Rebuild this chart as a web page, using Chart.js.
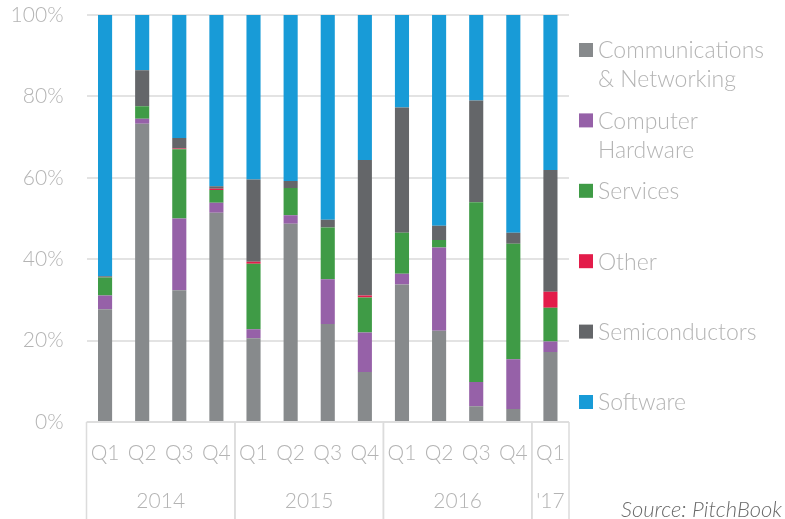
<!DOCTYPE html>
<html>
<head>
<meta charset="utf-8">
<script src="https://cdn.jsdelivr.net/npm/chart.js@4/dist/chart.umd.min.js"></script>
<style>
  html, body { margin: 0; padding: 0; background: #fff; overflow: hidden; }
  .chart-container { position: relative; width: 785px; height: 519px; }
</style>
</head>
<body>
<div class="chart-container">
  <canvas id="dealChart" width="785" height="519"></canvas>
</div>
<script>
// quarters on the axis, years under them
const quarters = ["Q1","Q2","Q3","Q4","Q1","Q2","Q3","Q4","Q1","Q2","Q3","Q4","Q1"];
const years = ["2014", "2015", "2016", "'17"];
const yearSpans = [4, 4, 4, 1];
const yTicks = [0, 20, 40, 60, 80, 100];

// share of deal count by sector, % (bottom to top)
const commsNetworking = [27.7, 73.3, 32.4, 51.4, 20.6, 48.7, 24.1, 12.3, 33.8, 22.4, 3.9, 3.2, 17.2];
const computerHardware = [3.4, 1.2, 17.6, 2.5, 2.2, 2.1, 11.0, 9.7, 2.6, 20.5, 5.9, 12.2, 2.6];
const services = [4.4, 3.1, 17.0, 3.1, 16.1, 6.7, 12.7, 8.6, 10.1, 1.8, 44.2, 28.4, 8.3];
const other = [0, 0, 0.2, 0.3, 0.5, 0, 0, 0.5, 0, 0, 0, 0, 3.9];
const semiconductors = [0.3, 8.8, 2.6, 0.6, 20.2, 1.7, 1.9, 33.3, 30.8, 3.5, 25.0, 2.7, 29.9];
const software = [64.2, 13.6, 30.2, 42.1, 40.4, 40.8, 50.3, 35.6, 22.7, 51.8, 21.0, 53.5, 38.1];

const FONT = "Lato, 'Open Sans', sans-serif";
const TEXT_GREY = "#b4b4b4";

// legend on the right, labels may wrap on two lines
const legendPlugin = {
  id: "sideLegend",
  afterDraw(chart) {
    const ctx = chart.ctx;
    ctx.save();
    ctx.font = "300 23px " + FONT;
    ctx.textBaseline = "middle";
    ctx.textAlign = "left";
    chart.data.datasets.forEach((ds, i) => {
      const cy = 50 + i * 70.4;
      ctx.fillStyle = ds.backgroundColor;
      ctx.fillRect(579, cy - 7, 14, 14);
      ctx.fillStyle = TEXT_GREY;
      const lines = Array.isArray(ds.legendText) ? ds.legendText : [ds.label];
      lines.forEach((t, j) => ctx.fillText(t, 598, cy + 1 + j * 29));
    });
    ctx.restore();
  }
};

// year groups under the quarter labels
const yearAxisPlugin = {
  id: "yearAxis",
  afterDraw(chart) {
    const ctx = chart.ctx;
    const x = chart.scales.x;
    const half = (x.getPixelForValue(1) - x.getPixelForValue(0)) / 2;
    const top = chart.chartArea.bottom;
    ctx.save();
    ctx.strokeStyle = "#dcdcdc";
    ctx.lineWidth = 1.5;
    ctx.beginPath();
    ctx.moveTo(x.left, top);
    ctx.lineTo(x.right, top);
    ctx.stroke();
    ctx.font = "300 21px " + FONT;
    ctx.fillStyle = TEXT_GREY;
    ctx.textAlign = "center";
    ctx.textBaseline = "middle";
    let idx = 0;
    years.forEach((y, i) => {
      const start = x.getPixelForValue(idx) - half;
      const end = x.getPixelForValue(idx + yearSpans[i] - 1) + half;
      ctx.beginPath();
      ctx.moveTo(start, top);
      ctx.lineTo(start, 519);
      ctx.moveTo(end, top);
      ctx.lineTo(end, 519);
      ctx.stroke();
      ctx.fillText(y, (start + end) / 2, 501);
      idx += yearSpans[i];
    });
    ctx.font = "italic 300 22px " + FONT;
    ctx.fillStyle = "#6a6a6a";
    ctx.textAlign = "right";
    ctx.fillText("Source: PitchBook", 782, 510);
    ctx.restore();
  }
};

new Chart(document.getElementById("dealChart"), {
  type: "bar",
  data: {
    labels: quarters,
    datasets: [
      { label: "Communications & Networking", legendText: ["Communications", "& Networking"], data: commsNetworking, backgroundColor: "#878a8c" },
      { label: "Computer Hardware", legendText: ["Computer", "Hardware"], data: computerHardware, backgroundColor: "#9661a8" },
      { label: "Services", data: services, backgroundColor: "#3f9b46" },
      { label: "Other", data: other, backgroundColor: "#e31c4a" },
      { label: "Semiconductors", data: semiconductors, backgroundColor: "#646669" },
      { label: "Software", data: software, backgroundColor: "#189bd7" }
    ]
  },
  options: {
    responsive: false,
    animation: false,
    devicePixelRatio: 1,
    layout: { padding: { top: 0, right: 216, left: 0, bottom: 0 } },
    datasets: { bar: { barPercentage: 0.38, categoryPercentage: 1 } },
    plugins: { legend: { display: false }, tooltip: { enabled: false } },
    scales: {
      x: {
        stacked: true,
        grid: { display: false },
        border: { display: false },
        ticks: { color: TEXT_GREY, font: { family: FONT, size: 21, weight: 300 }, padding: 11, maxRotation: 0 },
        afterFit: s => { s.height = 97; }
      },
      y: {
        stacked: true,
        min: 0,
        max: 100,
        afterBuildTicks: s => { s.ticks = yTicks.map(v => ({ value: v })); },
        grid: { color: "#e3e3e3", lineWidth: 2, drawTicks: false },
        border: { display: false },
        ticks: { color: TEXT_GREY, font: { family: FONT, size: 21, weight: 300 }, padding: 23, callback: v => v + "%" },
        afterFit: s => { s.width = 86.5; s.paddingTop = 15; s.paddingBottom = 0; }
      }
    }
  },
  plugins: [legendPlugin, yearAxisPlugin]
});
</script>
</body>
</html>
